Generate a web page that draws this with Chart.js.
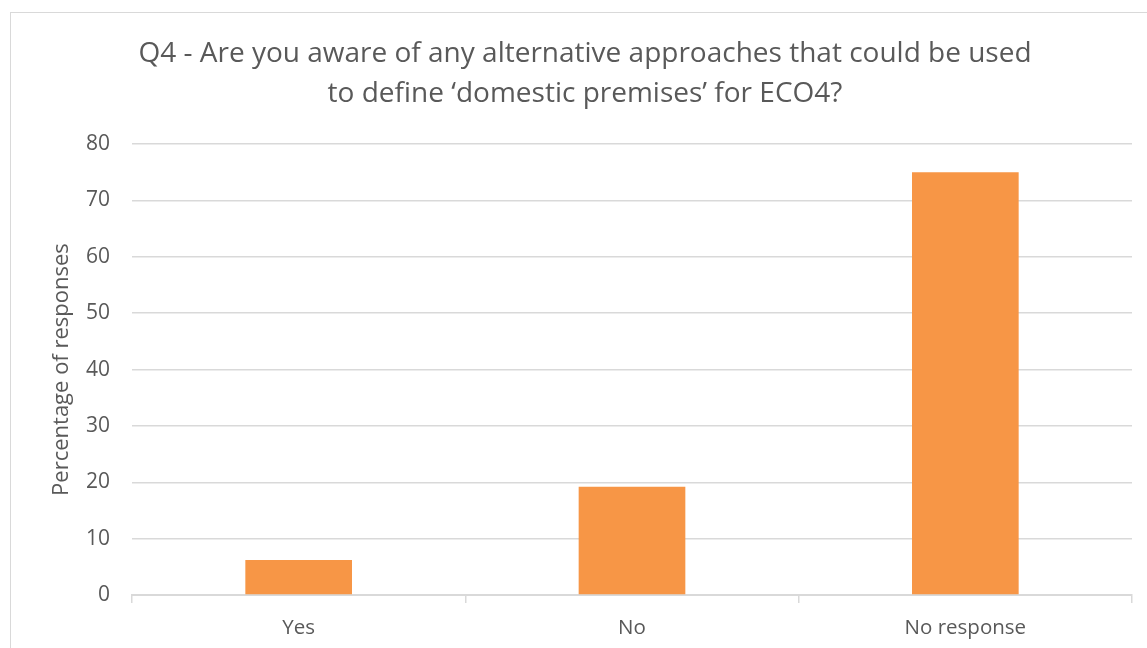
<!DOCTYPE html>
<html>
<head>
<meta charset="utf-8">
<script src="https://cdn.jsdelivr.net/npm/chart.js"></script>
<style>
  body { margin: 0; background: #fff; overflow: hidden; }
  #frame { position: absolute; left: 10px; top: 12px; width: 1200px; height: 700px; border: 1.5px solid #d9d9d9; }
  #chart { position: absolute; left: 0; top: 0; }
</style>
</head>
<body>
<div id="frame"></div>
<canvas id="chart" width="1147" height="648"></canvas>
<script>
// survey answers (% of responses)
const categories = ['Yes', 'No', 'No response'];
const percentages = [6.2, 19.2, 75.0];
const titleLines = [
  'Q4 - Are you aware of any alternative approaches that could be used',
  'to define \u2018domestic premises\u2019 for ECO4?'
];
const yTitle = 'Percentage of responses';

const grey = '#595959';
const lineGrey = '#d9d9d9';
const font = '"Open Sans", "Noto Sans", sans-serif';

new Chart(document.getElementById('chart'), {
  type: 'bar',
  data: {
    labels: categories,
    datasets: [{
      data: percentages,
      backgroundColor: '#f79646',
      borderWidth: 0,
      categoryPercentage: 1,
      barPercentage: 0.32
    }]
  },
  options: {
    responsive: false,
    animation: false,
    devicePixelRatio: 1,
    // left padding moves the title centre right of the canvas centre
    layout: { padding: { left: 38, right: 15, top: 0, bottom: 0 } },
    plugins: {
      legend: { display: false },
      tooltip: { enabled: false },
      title: {
        display: true,
        text: titleLines,
        color: grey,
        font: { family: font, size: 28, weight: 'normal', lineHeight: 1.43 },
        padding: { top: 34, bottom: 30 }
      }
    },
    scales: {
      x: {
        grid: { drawOnChartArea: false, drawTicks: true, tickLength: 8, color: lineGrey, lineWidth: 1.5 },
        border: { display: true, color: lineGrey, width: 2 },
        ticks: { color: grey, font: { family: font, size: 20.5 }, padding: 13 },
        afterFit: s => { s.height = 53; }
      },
      y: {
        min: 0,
        max: 80,
        ticks: { stepSize: 10, color: grey, font: { family: font, size: 21 }, padding: 22 },
        grid: { color: lineGrey, lineWidth: 1.5, drawTicks: false },
        border: { display: false },
        title: {
          display: true,
          text: yTitle,
          color: grey,
          font: { family: font, size: 22 },
          padding: { top: 11, bottom: 0 }
        },
        afterFit: s => { s.width = 94; }
      }
    }
  }
});
</script>
</body>
</html>
